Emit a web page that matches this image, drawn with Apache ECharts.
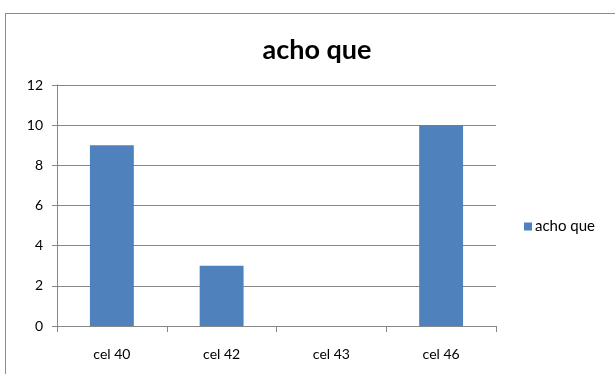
<!DOCTYPE html>
<html>
<head>
<meta charset="utf-8">
<script src="https://cdn.jsdelivr.net/npm/echarts@6/dist/echarts.min.js"></script>
<style>
  html, body { margin: 0; padding: 0; background: #fff; }
  #frame { position: absolute; left: 5px; top: 13px; width: 640px; height: 400px;
           border: 1px solid #8c8c8c; box-sizing: border-box; }
  #chart { position: absolute; left: 0; top: 0; width: 615px; height: 374px; }
</style>
</head>
<body>
<div id="frame"></div>
<div id="chart"></div>
<script>
const titleText = 'acho que';
const seriesName = 'acho que';
const categories = ['cel 40', 'cel 42', 'cel 43', 'cel 46'];
const values = [9, 3, 0, 10];
const yMin = 0, yMax = 12, yStep = 2;

const chart = echarts.init(document.getElementById('chart'), null, { renderer: 'canvas' });
const font = 'Lato, "Open Sans", sans-serif';
chart.setOption({
  animation: false,
  backgroundColor: 'transparent',
  title: {
    text: titleText,
    left: 312, top: 32, textAlign: 'center',
    textStyle: { fontFamily: font, fontSize: 27, fontWeight: 'bold', color: '#000' }
  },
  legend: {
    data: [seriesName],
    orient: 'vertical',
    left: 519, top: 214,
    itemWidth: 8, itemHeight: 8, itemGap: 4,
    icon: 'rect',
    textStyle: { fontFamily: font, fontSize: 15, color: '#000', padding: [0, 0, 0, -2] }
  },
  grid: { left: 57, top: 85, width: 439, height: 241 },
  xAxis: {
    type: 'category',
    data: categories,
    axisLine: { lineStyle: { color: '#868686' } },
    axisTick: { show: true, length: 6, lineStyle: { color: '#868686' } },
    axisLabel: { fontFamily: font, fontSize: 14, color: '#000', margin: 21 }
  },
  yAxis: {
    type: 'value',
    min: yMin, max: yMax, interval: yStep,
    axisLine: { show: true, lineStyle: { color: '#868686' } },
    axisTick: { show: true, length: 5, lineStyle: { color: '#868686' } },
    axisLabel: { fontFamily: font, fontSize: 14, color: '#000', margin: 14 },
    splitLine: { lineStyle: { color: '#868686' } }
  },
  series: [{
    name: seriesName,
    type: 'bar',
    data: values,
    barWidth: '40%',
    itemStyle: { color: '#4F81BD' }
  }]
});
</script>
</body>
</html>
